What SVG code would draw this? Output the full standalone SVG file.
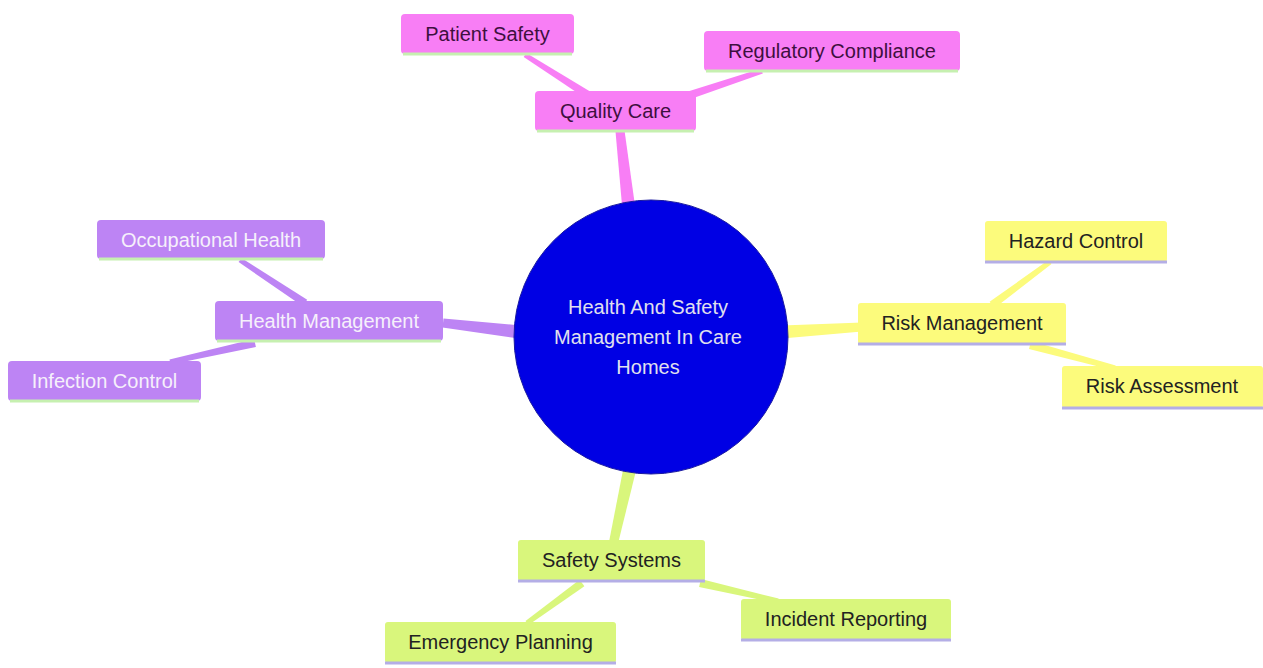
<svg xmlns="http://www.w3.org/2000/svg" width="1263" height="668" viewBox="0 0 1263 668">
<style>
.t{font-family:"Liberation Sans",Arial,sans-serif;font-size:20px;text-anchor:middle;dominant-baseline:central}
.pk{fill:#f87ef5}.pu{fill:#bd84f4}.ye{fill:#fcfb7c}.gr{fill:#d9f67c}
.tpk{fill:#3e103e}.tpu{fill:#f6f0fb}.tye{fill:#222}.tgr{fill:#222}
.bg{stroke:#c6f0b0;stroke-width:3}.bl{stroke:#b4aee6;stroke-width:3}
</style>
<rect width="1263" height="668" fill="#ffffff"/>
<g id="connectors">
<polygon class="pk" points="635.5,209.3 624.5,130.5 615.5,131.5 622.5,210.7"/>
<polygon class="pu" points="520.8,325.5 443.5,318.5 442.5,327.5 519.2,338.5"/>
<polygon class="ye" points="782,325.5 862,322.5 862,331.5 782,338.5"/>
<polygon class="gr" points="623.7,466.6 608.6,544 617.4,546 636.3,469.4"/>
<polygon class="pk" points="590.1,91.6 526.3,52.9 523.7,57.1 585.9,98.4"/>
<polygon class="pk" points="691.3,98.8 762.8,73.4 761.2,68.6 688.7,91.2"/>
<polygon class="pu" points="307.2,299.7 241.4,257.9 238.6,262.1 302.8,306.3"/>
<polygon class="pu" points="254.1,339.1 169.5,359.6 170.5,364.4 255.9,346.9"/>
<polygon class="ye" points="994.4,308.2 1051.5,264 1048.5,260 989.6,301.8"/>
<polygon class="ye" points="1029,348.9 1114.3,370.4 1115.7,365.6 1031,341.1"/>
<polygon class="gr" points="579.6,579.8 525.5,621 528.5,625 584.4,586.2"/>
<polygon class="gr" points="699.1,586.9 777.4,603.4 778.6,598.6 700.9,579.1"/>
</g>
<g id="root">
<circle cx="651" cy="337" r="137" fill="#0000e4" stroke="#1a1aa0" stroke-width="1"/>
<text class="t" x="648" y="307" fill="#e0e0ee">Health And Safety</text>
<text class="t" x="648" y="337" fill="#e0e0ee">Management In Care</text>
<text class="t" x="648" y="367" fill="#e0e0ee">Homes</text>
</g>
<g id="quality-care">
<rect class="pk" x="535" y="91" width="161" height="40" rx="4"/>
<line class="bg" x1="537" y1="131" x2="694" y2="131"/>
<text class="t tpk" x="615.5" y="111">Quality Care</text>
</g>
<g id="patient-safety">
<rect class="pk" x="401" y="14" width="173" height="40" rx="4"/>
<line class="bg" x1="403" y1="54" x2="572" y2="54"/>
<text class="t tpk" x="487.5" y="34">Patient Safety</text>
</g>
<g id="regulatory-compliance">
<rect class="pk" x="704" y="31" width="256" height="40" rx="4"/>
<line class="bg" x1="706" y1="71" x2="958" y2="71"/>
<text class="t tpk" x="832" y="51">Regulatory Compliance</text>
</g>
<g id="health-management">
<rect class="pu" x="215" y="301" width="228" height="40" rx="4"/>
<line class="bg" x1="217" y1="341" x2="441" y2="341"/>
<text class="t tpu" x="329" y="321">Health Management</text>
</g>
<g id="occupational-health">
<rect class="pu" x="97" y="220" width="228" height="39" rx="4"/>
<line class="bg" x1="99" y1="259" x2="323" y2="259"/>
<text class="t tpu" x="211" y="240">Occupational Health</text>
</g>
<g id="infection-control">
<rect class="pu" x="8" y="361" width="193" height="40" rx="4"/>
<line class="bg" x1="10" y1="401" x2="199" y2="401"/>
<text class="t tpu" x="104.5" y="381">Infection Control</text>
</g>
<g id="risk-management">
<rect class="ye" x="858" y="303" width="208" height="41" rx="3"/>
<line class="bl" x1="858" y1="344" x2="1066" y2="344"/>
<text class="t tye" x="962" y="323">Risk Management</text>
</g>
<g id="hazard-control">
<rect class="ye" x="985" y="221" width="182" height="41" rx="3"/>
<line class="bl" x1="985" y1="262" x2="1167" y2="262"/>
<text class="t tye" x="1076" y="241">Hazard Control</text>
</g>
<g id="risk-assessment">
<rect class="ye" x="1062" y="366" width="201" height="42" rx="3"/>
<line class="bl" x1="1062" y1="408" x2="1263" y2="408"/>
<text class="t tye" x="1162" y="386">Risk Assessment</text>
</g>
<g id="safety-systems">
<rect class="gr" x="518" y="540" width="187" height="41" rx="3"/>
<line class="bl" x1="518" y1="581" x2="705" y2="581"/>
<text class="t tgr" x="611.5" y="560">Safety Systems</text>
</g>
<g id="emergency-planning">
<rect class="gr" x="385" y="622" width="231" height="41" rx="3"/>
<line class="bl" x1="385" y1="663" x2="616" y2="663"/>
<text class="t tgr" x="500.5" y="642">Emergency Planning</text>
</g>
<g id="incident-reporting">
<rect class="gr" x="741" y="599" width="210" height="41" rx="3"/>
<line class="bl" x1="741" y1="640" x2="951" y2="640"/>
<text class="t tgr" x="846" y="619">Incident Reporting</text>
</g>
</svg>
